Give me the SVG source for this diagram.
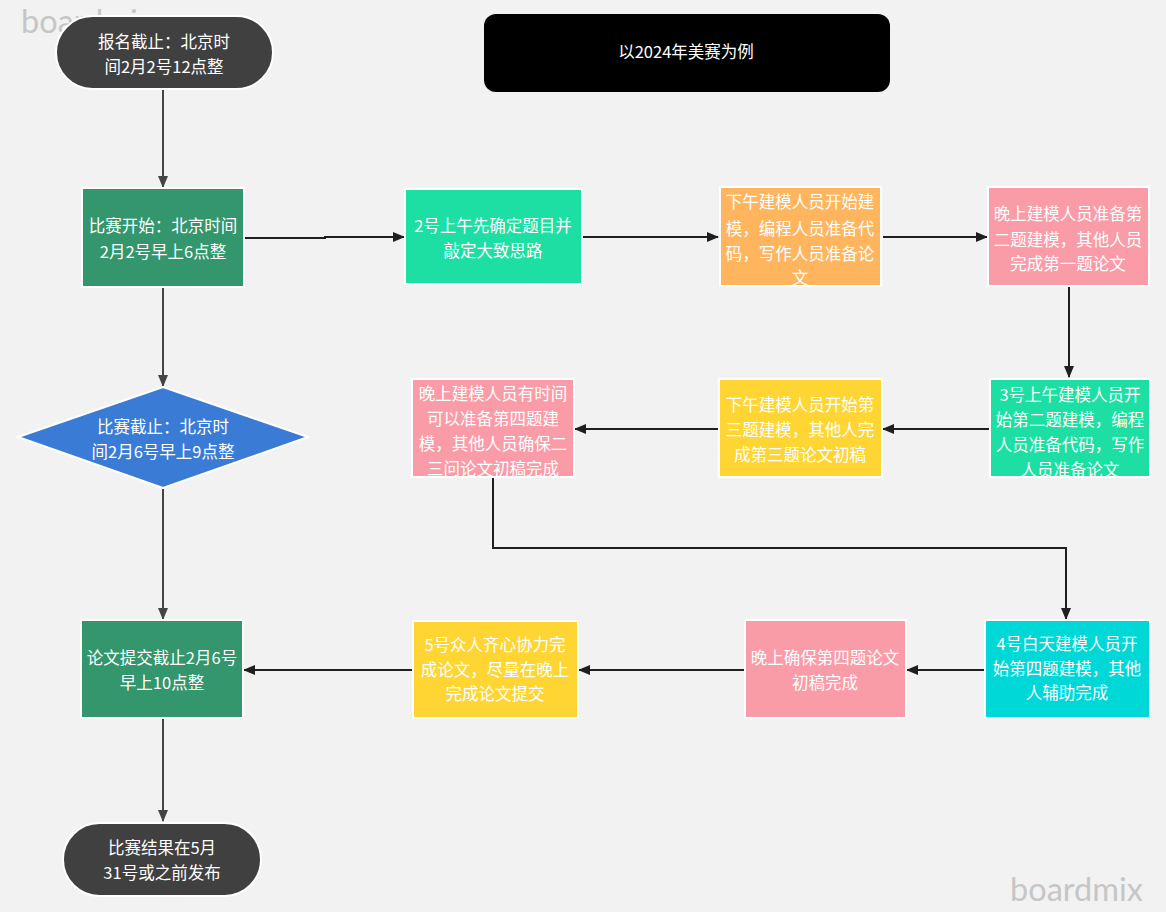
<svg xmlns="http://www.w3.org/2000/svg" width="1166" height="912" viewBox="0 0 1166 912">
<defs>
<style>
.t{font-family:"Noto Sans CJK SC","Noto Sans",sans-serif;font-size:16.5px;fill:#ffffff;text-anchor:middle;dominant-baseline:central}
.wm{font-family:Lato,"Open Sans",sans-serif;font-size:32.5px;fill:#c6c6c6}
.n{stroke:#ffffff;stroke-width:2}
.c{fill:none;stroke:#1f1f1f;stroke-width:2}
.cg{fill:none;stroke:#444444;stroke-width:2}
</style>
<marker id="ah" viewBox="0 0 12 12" refX="11" refY="6" markerWidth="12" markerHeight="12" markerUnits="userSpaceOnUse" orient="auto">
<path d="M0,1 L12,6 L0,11 Z" fill="#1f1f1f"/>
</marker>
<marker id="ahg" viewBox="0 0 12 12" refX="11" refY="6" markerWidth="12" markerHeight="12" markerUnits="userSpaceOnUse" orient="auto">
<path d="M0,1 L12,6 L0,11 Z" fill="#444444"/>
</marker>
</defs>
<rect x="0" y="0" width="1166" height="912" fill="#f2f2f2"/>
<text class="wm" x="21" y="33">boardmix</text>
<text class="wm" x="1010" y="901">boardmix</text>

<g id="connectors">
<path class="cg" d="M163,90 V187" marker-end="url(#ahg)"/>
<path class="cg" d="M163,288 V386" marker-end="url(#ahg)"/>
<path class="cg" d="M163,489 V619" marker-end="url(#ahg)"/>
<path class="cg" d="M163,719 V821" marker-end="url(#ahg)"/>
<path class="c" d="M244,238 H325 V237 H404" marker-end="url(#ah)"/>
<path class="c" d="M583,237 H718" marker-end="url(#ah)"/>
<path class="c" d="M883,237 H987" marker-end="url(#ah)"/>
<path class="c" d="M1069,287 V377" marker-end="url(#ah)"/>
<path class="c" d="M989,429 H883" marker-end="url(#ah)"/>
<path class="c" d="M718,429 H575" marker-end="url(#ah)"/>
<path class="c" d="M493,478 V548 H1066 V619" marker-end="url(#ah)"/>
<path class="c" d="M984,670 H907" marker-end="url(#ah)"/>
<path class="c" d="M744,670 H579" marker-end="url(#ah)"/>
<path class="c" d="M412,670 H244" marker-end="url(#ah)"/>
</g>

<g id="n-start">
<rect class="n" x="56" y="16" width="217" height="73" rx="36.5" fill="#404040"/>
<text class="t" x="164" y="41">报名截止：北京时</text>
<text class="t" x="164" y="66">间2月2号12点整</text>
</g>

<g id="n-title">
<rect x="484" y="14" width="406" height="78" rx="12" fill="#000000"/>
<text class="t" x="686" y="51">以2024年美赛为例</text>
</g>

<g id="n-begin">
<rect class="n" x="82" y="188" width="162" height="99" fill="#33966c"/>
<text class="t" x="163" y="225">比赛开始：北京时间</text>
<text class="t" x="163" y="251">2月2号早上6点整</text>
</g>

<g id="n-d2am">
<rect class="n" x="405" y="189" width="177" height="95" fill="#1ddfa3"/>
<text class="t" x="493" y="225">2号上午先确定题目并</text>
<text class="t" x="493" y="250">敲定大致思路</text>
</g>

<g id="n-d2pm">
<rect class="n" x="720" y="187" width="161" height="99" fill="#feb55e"/>
<text class="t" x="800" y="201">下午建模人员开始建</text>
<text class="t" x="800" y="228">模，编程人员准备代</text>
<text class="t" x="800" y="253">码，写作人员准备论</text>
<text class="t" x="800" y="277">文</text>
</g>

<g id="n-d2night">
<rect class="n" x="988" y="187" width="161" height="99" fill="#fa9ca7"/>
<text class="t" x="1068" y="213">晚上建模人员准备第</text>
<text class="t" x="1068" y="239">二题建模，其他人员</text>
<text class="t" x="1068" y="263">完成第一题论文</text>
</g>

<g id="n-d3am">
<rect class="n" x="990" y="379" width="160" height="98" fill="#1ddfa3"/>
<text class="t" x="1070" y="394">3号上午建模人员开</text>
<text class="t" x="1070" y="419">始第二题建模，编程</text>
<text class="t" x="1070" y="444">人员准备代码，写作</text>
<text class="t" x="1070" y="469">人员准备论文</text>
</g>

<g id="n-d3pm">
<rect class="n" x="719" y="379" width="163" height="98" fill="#fed533"/>
<text class="t" x="800" y="404">下午建模人员开始第</text>
<text class="t" x="800" y="429">三题建模，其他人完</text>
<text class="t" x="800" y="454">成第三题论文初稿</text>
</g>

<g id="n-d3night">
<rect class="n" x="412" y="379" width="162" height="98" fill="#fa9ca7"/>
<text class="t" x="493" y="393">晚上建模人员有时间</text>
<text class="t" x="493" y="418">可以准备第四题建</text>
<text class="t" x="493" y="443">模，其他人员确保二</text>
<text class="t" x="493" y="468">三问论文初稿完成</text>
</g>

<g id="n-deadline">
<polygon class="n" points="18,437 163,387 308,437 163,488" fill="#3a7bd5"/>
<text class="t" x="163" y="426">比赛截止：北京时</text>
<text class="t" x="163" y="451">间2月6号早上9点整</text>
</g>

<g id="n-d4day">
<rect class="n" x="985" y="620" width="165" height="98" fill="#00d8d8"/>
<text class="t" x="1067" y="643">4号白天建模人员开</text>
<text class="t" x="1067" y="668">始第四题建模，其他</text>
<text class="t" x="1067" y="692">人辅助完成</text>
</g>

<g id="n-d4night">
<rect class="n" x="745" y="620" width="161" height="98" fill="#fa9ca7"/>
<text class="t" x="825" y="657">晚上确保第四题论文</text>
<text class="t" x="825" y="682">初稿完成</text>
</g>

<g id="n-d5">
<rect class="n" x="413" y="621" width="165" height="97" fill="#fed533"/>
<text class="t" x="495" y="644">5号众人齐心协力完</text>
<text class="t" x="495" y="669">成论文，尽量在晚上</text>
<text class="t" x="495" y="693">完成论文提交</text>
</g>

<g id="n-submit">
<rect class="n" x="81" y="620" width="162" height="98" fill="#33966c"/>
<text class="t" x="162" y="657">论文提交截止2月6号</text>
<text class="t" x="162" y="682">早上10点整</text>
</g>

<g id="n-result">
<rect class="n" x="63" y="823" width="198" height="73" rx="36.5" fill="#404040"/>
<text class="t" x="162" y="847">比赛结果在5月</text>
<text class="t" x="162" y="872">31号或之前发布</text>
</g>
</svg>
